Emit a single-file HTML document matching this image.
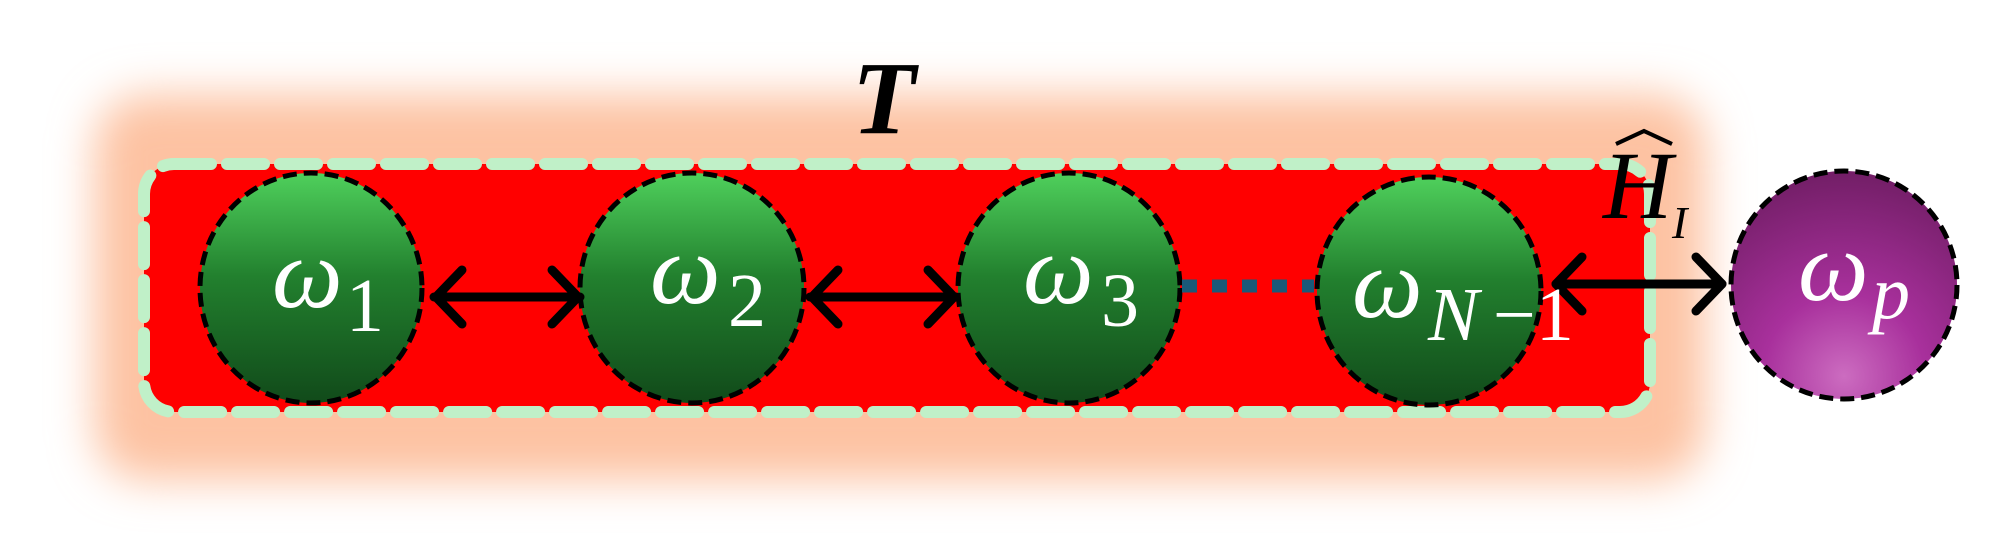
<!DOCTYPE html>
<html><head><meta charset="utf-8"><style>
html,body{margin:0;padding:0;background:#fff;}
svg{display:block;}
</style></head><body>
<svg width="2008" height="542" viewBox="0 0 2008 542" xmlns="http://www.w3.org/2000/svg">
<defs>
<filter id="blur" x="-20%" y="-50%" width="140%" height="200%"><feGaussianBlur stdDeviation="22"/></filter>
<linearGradient id="g" x1="0" y1="0" x2="0" y2="1">
<stop offset="0" stop-color="#4fd05c"/><stop offset="0.45" stop-color="#22802e"/><stop offset="1" stop-color="#114a1a"/></linearGradient>
<radialGradient id="p" cx="0.5" cy="0.9" r="0.9">
<stop offset="0" stop-color="#cc6cc0"/><stop offset="0.4" stop-color="#a8309c"/><stop offset="1" stop-color="#721e66"/></radialGradient>
</defs>
<rect x="95" y="95" width="1610" height="385" rx="50" fill="#fdc2a2" filter="url(#blur)"/>
<rect x="144" y="164" width="1506" height="248" rx="30" fill="#ff0000" stroke="#c0f0c8" stroke-width="12" stroke-dasharray="37 16" stroke-linecap="round"/>
<g stroke="#000" stroke-width="5" stroke-dasharray="14 7">
<ellipse cx="311" cy="288" rx="111" ry="115" fill="url(#g)"/>
<ellipse cx="692" cy="288" rx="112" ry="115" fill="url(#g)"/>
<ellipse cx="1069" cy="288" rx="111" ry="115" fill="url(#g)"/>
<ellipse cx="1429" cy="291" rx="112" ry="114" fill="url(#g)"/>
<ellipse cx="1844" cy="285" rx="113" ry="114" fill="url(#p)"/>
</g>
<line x1="1182" y1="286" x2="1314" y2="286" stroke="#1a5a78" stroke-width="13" stroke-dasharray="15 15"/>
<g stroke="#000" stroke-width="9" fill="none" stroke-linecap="round" stroke-linejoin="round">
<line x1="434" y1="297" x2="580" y2="297"/><polyline points="462,270 436,297 462,324"/><polyline points="552,270 578,297 552,324"/>
<line x1="810" y1="297" x2="956" y2="297"/><polyline points="838,270 812,297 838,324"/><polyline points="928,270 954,297 928,324"/>
<line x1="1556" y1="284" x2="1722" y2="284"/><polyline points="1582,257 1556,284 1582,311"/><polyline points="1696,257 1722,284 1696,311"/>
</g>
<g font-family="Liberation Serif, serif" fill="#fff">
<text x="272" y="307" font-size="100" font-style="italic">ω</text><text x="346" y="331" font-size="76">1</text>
<text x="650" y="303" font-size="100" font-style="italic">ω</text><text x="728" y="326" font-size="76">2</text>
<text x="1023" y="303" font-size="100" font-style="italic">ω</text><text x="1101" y="326" font-size="76">3</text>
<text x="1352" y="317" font-size="100" font-style="italic">ω</text><text x="1428" y="340" font-size="76" font-style="italic">N</text><text x="1493" y="340" font-size="76">−1</text>
<text x="1798" y="300" font-size="100" font-style="italic">ω</text><text x="1872" y="318" font-size="76" font-style="italic">p</text>
</g>
<g font-family="Liberation Serif, serif" fill="#000">
<text x="852" y="133" font-size="104" font-weight="bold" font-style="italic">T</text>
<text x="1603" y="218" font-size="96" font-style="italic">H</text>
<text x="1672" y="238" font-size="46" font-style="italic">I</text>
</g>
<polyline points="1616,144 1644,131 1672,144" fill="none" stroke="#000" stroke-width="4"/>
</svg>
</body></html>
